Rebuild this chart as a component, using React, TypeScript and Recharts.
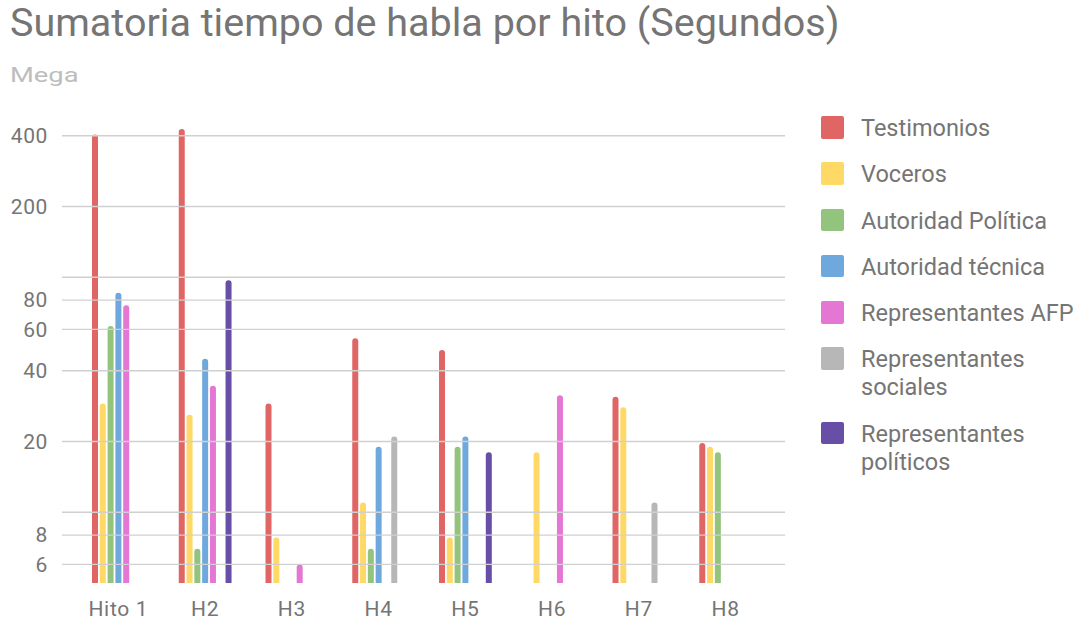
import React from "react";
import { BarChart, Bar, XAxis, YAxis, ReferenceLine } from "recharts";

// hitos
const categories = ["Hito 1", "H2", "H3", "H4", "H5", "H6", "H7", "H8"];

// segundos por tipo de vocero (null = sin barra)
const testimonios = [405, 427, 29, 55, 49, null, 31, 19.7];
const voceros = [29, 26, 7.8, 11, 7.8, 18, 28, 19];
const autoridadPolitica = [62, 7, null, 7, 19, null, null, 18];
const autoridadTecnica = [86, 45, null, 19, 21, null, null, null];
const representantesAFP = [76, 34.5, 6, null, null, 31.5, null, null];
const representantesSociales = [null, null, null, 21, null, null, 11, null];
const representantesPoliticos = [null, 97, null, null, 18, null, null, null];

const yTicks = [6, 8, 10, 20, 40, 60, 80, 100, 200, 400];
const hiddenTicks = [10, 100];

const series = [
  { key: "testimonios", name: "Testimonios", color: "#e06666", values: testimonios },
  { key: "voceros", name: "Voceros", color: "#ffd966", values: voceros },
  { key: "autPol", name: "Autoridad Política", color: "#93c47d", values: autoridadPolitica },
  { key: "autTec", name: "Autoridad técnica", color: "#6fa8dc", values: autoridadTecnica },
  { key: "repAfp", name: "Representantes AFP", color: "#e377d3", values: representantesAFP },
  { key: "repSoc", name: "Representantes sociales", color: "#b7b7b7", values: representantesSociales },
  { key: "repPol", name: "Representantes políticos", color: "#674ea7", values: representantesPoliticos },
];

const data = categories.map((c, i) => {
  const row: any = { hito: c };
  series.forEach((s) => {
    row[s.key] = s.values[i];
  });
  return row;
});

const FONT = "Roboto, 'Noto Sans', sans-serif";
const GRAY = "#757575";

export default function App() {
  return (
    <div
      style={{
        position: "absolute",
        left: 0,
        top: 0,
        width: 1078,
        height: 622,
        background: "#fff",
        fontFamily: FONT,
        overflow: "hidden",
      }}
    >
      <div
        style={{
          position: "absolute",
          left: 10,
          top: 3,
          fontSize: 39.5,
          lineHeight: "40px",
          color: GRAY,
          whiteSpace: "nowrap",
        }}
      >
        Sumatoria tiempo de habla por hito (Segundos)
      </div>
      <div
        style={{
          position: "absolute",
          left: 10,
          top: 64.6,
          fontSize: 21,
          lineHeight: "21px",
          color: "#bdbdbd",
          transform: "scaleX(1.3)",
          transformOrigin: "left center",
        }}
      >
        Mega
      </div>

      <div style={{ position: "absolute", left: 0, top: 0 }}>
        <BarChart
          width={1078}
          height={622}
          data={data}
          margin={{ top: 113, right: 293, bottom: 0, left: 0 }}
          barSize={6}
          barGap={1.8}
        >
          <XAxis
            dataKey="hito"
            axisLine={false}
            tickLine={false}
            height={39}
            tickMargin={12}
            padding={{ left: 13, right: 16 }}
            tick={{ fill: GRAY, fontSize: 21, fontFamily: FONT, letterSpacing: 0.7 }}
            interval={0}
          />
          <YAxis
            type="number"
            scale="log"
            domain={[5, 500]}
            allowDataOverflow
            ticks={yTicks}
            interval={0}
            width={62}
            axisLine={false}
            tickLine={false}
            tickMargin={8}
            tick={{ fill: GRAY, fontSize: 21, fontFamily: FONT, letterSpacing: 0.6 }}
            tickFormatter={(v: number) => (hiddenTicks.includes(v) ? "" : String(v))}
          />
          {/* gridlines only at the tick values */}
          {yTicks.map((t) => (
            <ReferenceLine key={t} y={t} stroke="#d0d0d0" strokeWidth={1.3} />
          ))}
          {series.map((s) => (
            <Bar
              key={s.key}
              dataKey={s.key}
              name={s.name}
              fill={s.color}
              radius={[3, 3, 0, 0]}
              isAnimationActive={false}
            />
          ))}
        </BarChart>
      </div>

      <div style={{ position: "absolute", left: 821, top: 114 }}>
        {series.map((s) => (
          <div
            key={s.key}
            style={{ display: "flex", alignItems: "flex-start", marginBottom: 18.3 }}
          >
            <div
              style={{
                width: 22.5,
                height: 22.5,
                marginTop: 2,
                borderRadius: 2,
                background: s.color,
                flexShrink: 0,
              }}
            />
            <div
              style={{
                marginLeft: 17.5,
                width: 217,
                fontSize: 23.5,
                lineHeight: "28px",
                color: GRAY,
              }}
            >
              {s.name}
            </div>
          </div>
        ))}
      </div>
    </div>
  );
}
